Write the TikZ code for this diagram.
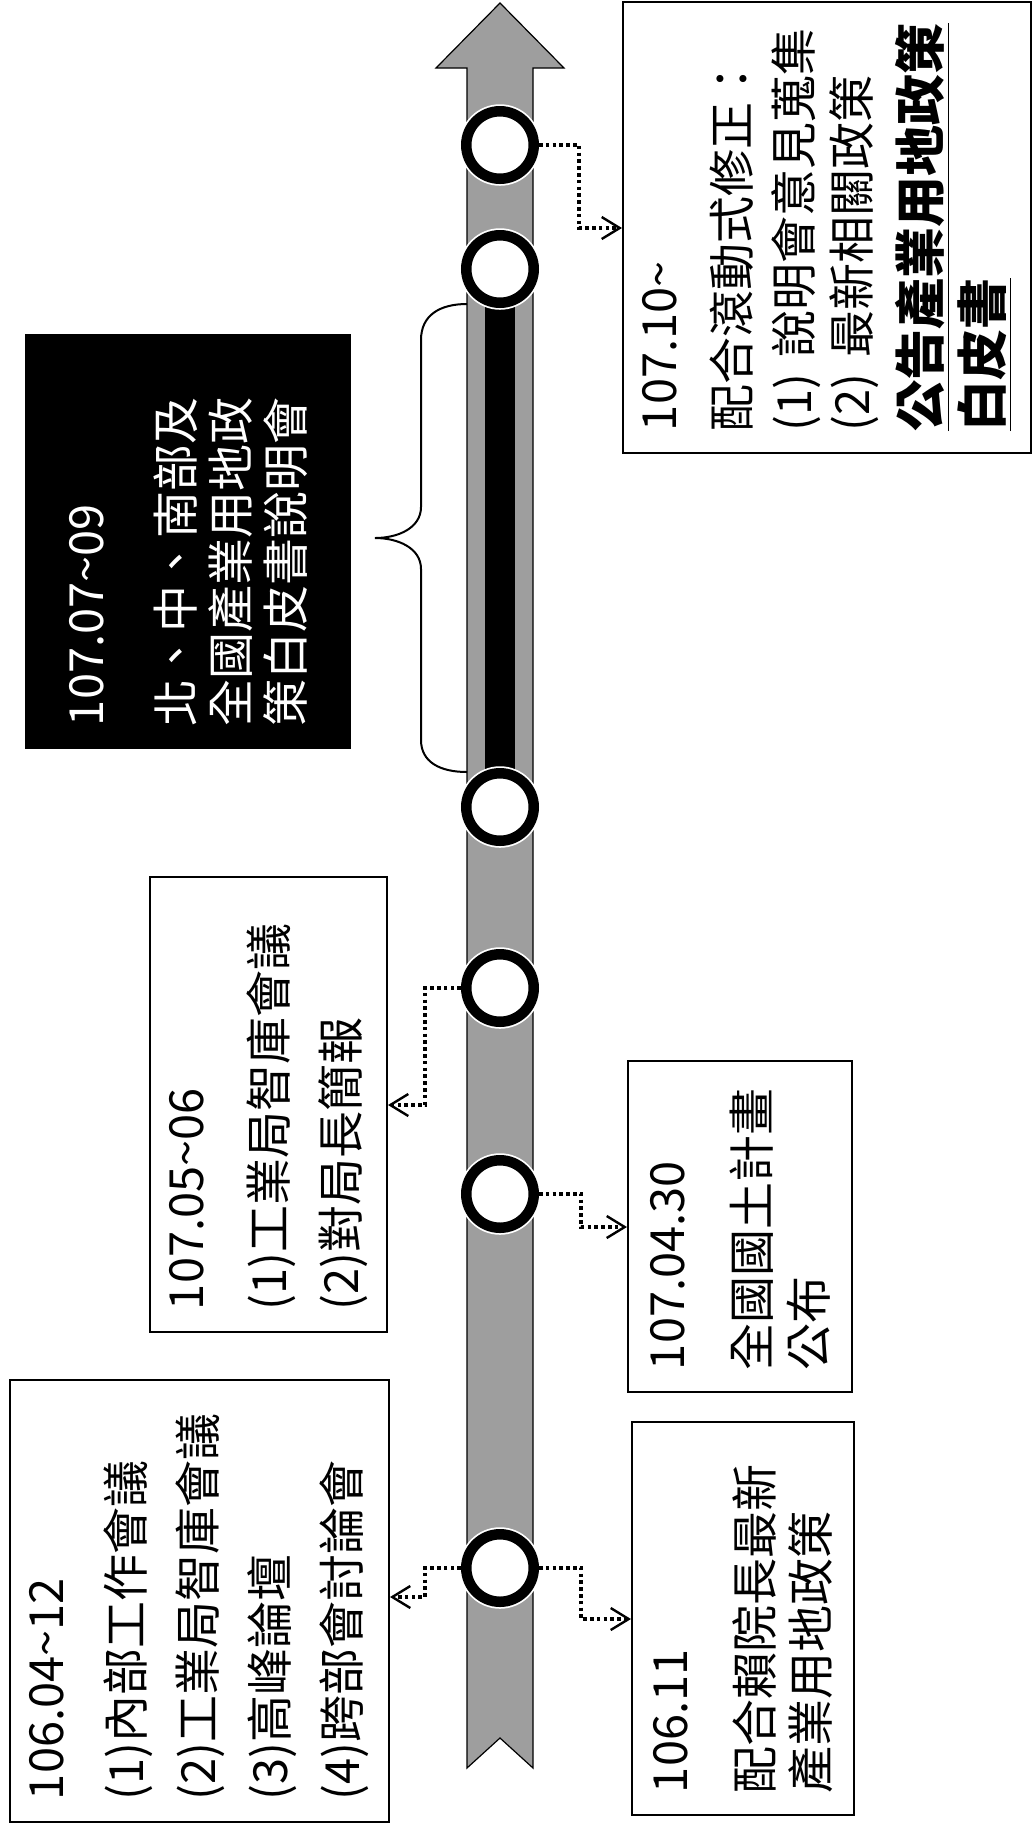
\documentclass[tikz,border=0pt]{standalone}
\usepackage{fontspec}
\setmainfont{Noto Sans CJK TC}
\usetikzlibrary{arrows.meta}
\begin{document}
\begin{tikzpicture}[x=0.5pt,y=-0.5pt,
  ring/.style={circle, draw=black, line width=5.25pt, fill=white,
    minimum size=33.75pt, inner sep=0pt,
    preaction={draw=white, line width=7pt}},
  box/.style={draw=black, line width=1pt, fill=white, rotate=90, align=left,
    inner xsep=11pt, inner ysep=0pt},
  darkbox/.style={box, fill=black, text=white},
  conn/.style={line width=1.8pt, dash pattern=on 1.8pt off 1.6pt,
    -{Straight Barb[length=9pt,width=11pt,line width=1.2pt]}},
  shaft/.style={fill=black!38, draw=black, line width=0.6pt},
  brace/.style={draw=black, line width=1pt}
]
\useasboundingbox (0,0) rectangle (1034,1828);
\fill[white] (0,0) rectangle (1034,1828);

% timeline arrow
\filldraw[shaft] (467,1768) -- (467,68) -- (436,68) -- (500,3) -- (564,68)
  -- (533,68) -- (533,1768) -- (500,1738) -- cycle;
% thick bar for 107.07~09
\fill[black] (485,269) rectangle (515,807);

% milestones
\node[ring] (c1) at (500,145) {};
\node[ring] (c2) at (500,269) {};
\node[ring] (c3) at (500,807) {};
\node[ring] (c4) at (500,988) {};
\node[ring] (c5) at (500,1194) {};
\node[ring] (c6) at (500,1568) {};

% brace
\draw[brace] (467,304) .. controls (440,304) and (421,315) .. (421,340)
  -- (421,507) .. controls (421,528) and (398,538) .. (375,538)
  .. controls (398,538) and (421,548) .. (421,569)
  -- (421,740) .. controls (421,762) and (440,772) .. (467,772);

% boxes
\node[box, minimum width=221pt, minimum height=189.5pt, text width=199pt,
  font=\fontsize{23.5pt}{36pt}\selectfont] (b1) at (199.5,1601)
  {106.04\textasciitilde 12\\[4pt]
   (1)內部工作會議\\
   (2)工業局智庫會議\\
   (3)高峰論壇\\
   (4)跨部會討論會};

\node[box, minimum width=196.5pt, minimum height=111pt, text width=174.5pt,
  font=\fontsize{23.5pt}{28pt}\selectfont] (b2) at (743,1618.5)
  {106.11\\[14.5pt]
   配合賴院長最新\\
   產業用地政策};

\node[box, minimum width=165.5pt, minimum height=112pt, text width=143.5pt,
  font=\fontsize{23.5pt}{28.5pt}\selectfont] (b5) at (740,1226.5)
  {107.04.30\\[14pt]
   全國國土計畫\\
   公布};

\node[box, minimum width=227.5pt, minimum height=118.5pt, text width=205.5pt,
  font=\fontsize{23.5pt}{36pt}\selectfont] (b4) at (268.5,1104.5)
  {107.05\textasciitilde 06\\[5.5pt]
   (1)工業局智庫會議\\
   (2)對局長簡報};

\node[darkbox, minimum width=206.5pt, minimum height=162pt, text width=184.5pt,
  font=\fontsize{23.5pt}{27.5pt}\selectfont] (b3) at (188,541.5)
  {107.07\textasciitilde 09\\[17.5pt]
   北、中、南部及\\
   全國產業用地政\\
   策白皮書說明會};

\node[box, minimum width=225.5pt, minimum height=204pt, text width=203.5pt,
  font=\fontsize{23.5pt}{30pt}\selectfont] (b7) at (827,227.5)
  {107.10\textasciitilde\\[6.5pt]
   配合滾動式修正：\\[1pt]
   (1) 說明會意見蒐集\\[-1pt]
   (2) 最新相關政策\\[5pt]
   {\bfseries\fontsize{25.5pt}{30pt}\selectfont\underline{公告產業用地政策}}\\[1pt]
   {\bfseries\fontsize{25.5pt}{30pt}\selectfont\underline{白皮書}}};

% connectors
\draw[conn] (c1.east) -- ++(40,0) |- (b7.north |- 0,228);
\draw[conn] (c4.west) -- ++(-36,0) |- (b4.south |- 0,1105);
\draw[conn] (c5.east) -- ++(42,0) |- (b5.north |- 0,1227);
\draw[conn] (c6.west) -- ++(-36,0) |- (b1.south |- 0,1597);
\draw[conn] (c6.east) -- ++(42,0) |- (b2.north |- 0,1619);
\end{tikzpicture}
\end{document}
